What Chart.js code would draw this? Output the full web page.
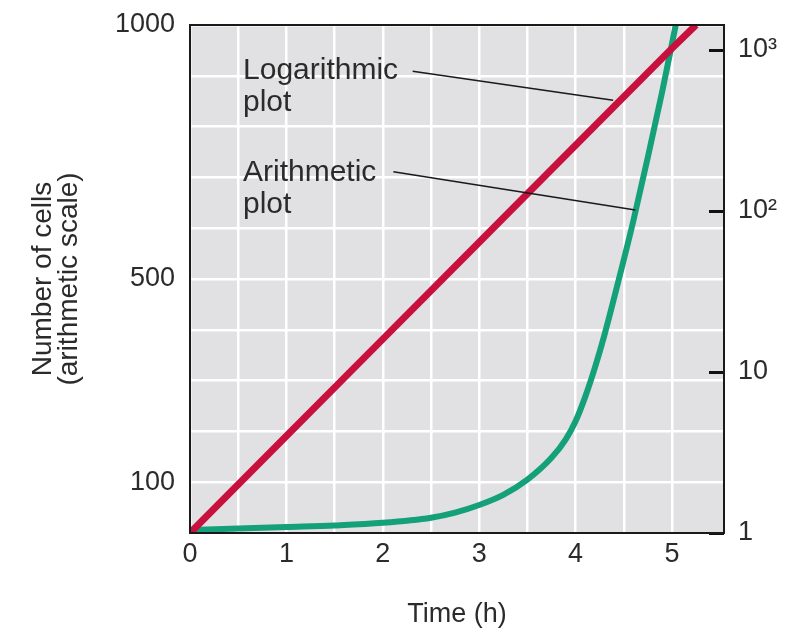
<!DOCTYPE html>
<html><head><meta charset="utf-8">
<script src="https://cdn.jsdelivr.net/npm/chart.js@4/dist/chart.umd.min.js"></script>
<style>html,body{margin:0;padding:0;background:#fff}#wrap{width:798px;height:637px;position:relative}</style>
</head><body><div id="wrap"><canvas id="c" width="798" height="637"></canvas></div>
<script>
// Arithmetic plot (left, linear axis)
const hours = [0, 0.5, 1, 1.5, 2, 2.5, 2.75, 3, 3.25, 3.5, 3.75, 3.9, 4, 4.1, 4.2, 4.3, 4.45, 4.6, 4.75, 4.9, 5.05];
const arithmeticCells = [6, 9, 12, 15, 20, 30, 40, 55, 75, 105, 148, 185, 220, 268, 325, 390, 500, 615, 740, 870, 1010];
// Logarithmic plot (right, log axis)
const logHours = [0, 1, 2, 3, 4, 5, 5.25];
const logCells = [1, 4, 16, 64, 256, 1024, 1430];
// Tick labels
const xTickValues = [0, 0.5, 1, 1.5, 2, 2.5, 3, 3.5, 4, 4.5, 5];
const xTickLabels = {0:'0', 1:'1', 2:'2', 3:'3', 4:'4', 5:'5'};
const leftTickLabels = {100:'100', 500:'500', 1000:'1000'};
const rightTickValues = [1, 10, 100, 1000];
const rightTickLabels = ['1', '10', '10²', '10³'];
// Annotation labels [hour, cells, text]
const annotationTexts = [[0.55, 894, 'Logarithmic'], [0.55, 831, 'plot'], [0.55, 693, 'Arithmetic'], [0.55, 630, 'plot']];
const logLeaderHours = [2.31, 4.39];
const logLeaderCells = [909, 852];
const arithLeaderHours = [2.11, 4.62];
const arithLeaderCells = [711, 636];

const FONT = "'Liberation Sans', Arial, Helvetica, sans-serif";
const TEXT = '#2b2b2b';
const pts = (xs, ys) => xs.map((x, i) => ({x: x, y: ys[i]}));

const frame = {
  id: 'frame',
  beforeDraw(chart) {
    const {ctx, chartArea: a} = chart;
    ctx.save();
    ctx.fillStyle = '#e1e0e2';
    ctx.fillRect(a.left, a.top, a.right - a.left, a.bottom - a.top);
    ctx.restore();
  },
  afterDatasetsDraw(chart) {
    const {ctx, chartArea: a, scales} = chart;
    ctx.save();
    ctx.font = '30px ' + FONT;
    ctx.fillStyle = TEXT;
    ctx.textAlign = 'left';
    ctx.textBaseline = 'alphabetic';
    annotationTexts.forEach(([h, v, t]) => {
      ctx.fillText(t, scales.x.getPixelForValue(h), scales.y.getPixelForValue(v));
    });
    ctx.strokeStyle = '#1a1a1a';
    ctx.lineWidth = 2;
    ctx.strokeRect(a.left, a.top, a.right - a.left, a.bottom - a.top);
    ctx.restore();
  }
};

new Chart(document.getElementById('c'), {
  type: 'line',
  data: {
    datasets: [
      {data: pts(logLeaderHours, logLeaderCells), yAxisID: 'y', borderColor: '#1a1a1a', borderWidth: 1.5, pointRadius: 0, order: 0},
      {data: pts(arithLeaderHours, arithLeaderCells), yAxisID: 'y', borderColor: '#1a1a1a', borderWidth: 1.5, pointRadius: 0, order: 0},
      {label: 'Logarithmic plot', data: pts(logHours, logCells), yAxisID: 'y2', borderColor: '#c8103e', borderWidth: 7, pointRadius: 0, order: 1},
      {label: 'Arithmetic plot', data: pts(hours, arithmeticCells), yAxisID: 'y', borderColor: '#14a078', borderWidth: 6, pointRadius: 0, cubicInterpolationMode: 'monotone', order: 2}
    ]
  },
  options: {
    responsive: false,
    animation: false,
    layout: {padding: {top: 25, left: 0, right: 0, bottom: 0}},
    plugins: {legend: {display: false}, tooltip: {enabled: false}},
    scales: {
      x: {
        type: 'linear', min: 0, max: 5.54, bounds: 'data',
        afterBuildTicks: s => { s.ticks = xTickValues.map(v => ({value: v})); },
        afterFit: s => { s.height = 104; s.paddingLeft = 0; s.paddingRight = 0; },
        grid: {color: '#ffffff', lineWidth: 2.5, drawTicks: false},
        border: {display: false},
        ticks: {padding: 5, color: TEXT, font: {family: FONT, size: 27}, maxRotation: 0, autoSkip: false,
          callback: v => (xTickLabels[v] !== undefined ? xTickLabels[v] : '')},
        title: {display: true, text: 'Time (h)', color: TEXT, font: {family: FONT, size: 27}, padding: {top: 0, bottom: 6}}
      },
      y: {
        type: 'linear', position: 'left', min: 0, max: 1000, bounds: 'data',
        afterBuildTicks: s => { const t = []; for (let v = 0; v <= 1000; v += 100) t.push({value: v}); s.ticks = t; },
        afterFit: s => { s.width = 190; s.paddingTop = 0; s.paddingBottom = 0; },
        grid: {color: '#ffffff', lineWidth: 2.5, drawTicks: false},
        border: {display: false},
        ticks: {padding: 15, color: TEXT, font: {family: FONT, size: 27}, autoSkip: false,
          callback: v => (leftTickLabels[v] !== undefined ? leftTickLabels[v] : '')},
        title: {display: true, text: ['Number of cells', '(arithmetic scale)'], color: TEXT, font: {family: FONT, size: 28, lineHeight: 0.9}, padding: {top: 31, bottom: 0}}
      },
      y2: {
        type: 'logarithmic', position: 'right', min: 1, max: 1430, bounds: 'data',
        afterBuildTicks: s => { s.ticks = rightTickValues.map(v => ({value: v})); },
        afterFit: s => { s.width = 74; s.paddingTop = 0; s.paddingBottom = 0; },
        grid: {drawOnChartArea: false, drawTicks: true, tickLength: -15, tickWidth: 3, tickColor: '#111111'},
        border: {display: false},
        ticks: {padding: 29, color: TEXT, font: {family: FONT, size: 27}, autoSkip: false,
          callback: v => { const i = rightTickValues.indexOf(v); return i >= 0 ? rightTickLabels[i] : ''; }}
      }
    }
  },
  plugins: [frame]
});
</script>
</body></html>
